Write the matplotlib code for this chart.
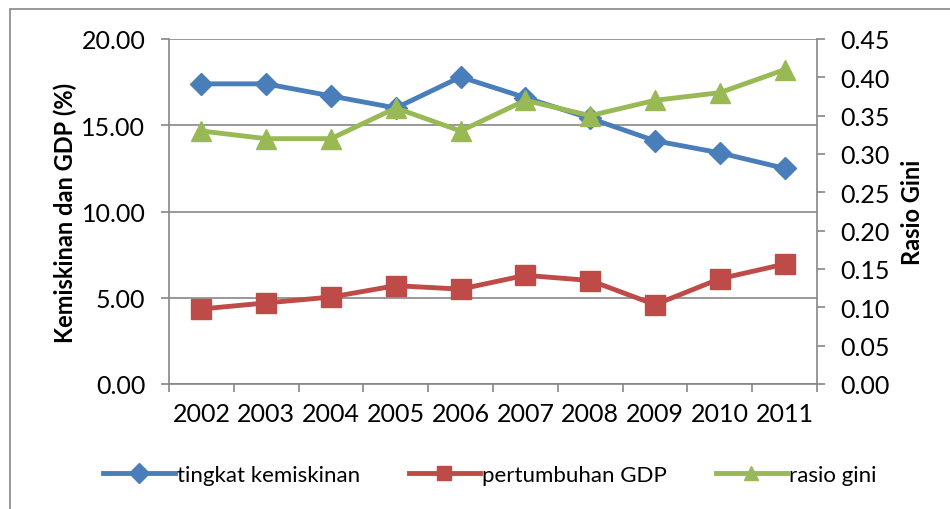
import matplotlib
matplotlib.use("Agg")
import matplotlib.pyplot as plt
from matplotlib.patches import Rectangle
import numpy as np

plt.rcParams['font.family'] = ['Lato', 'DejaVu Sans']

years = ['2002', '2003', '2004', '2005', '2006', '2007', '2008', '2009', '2010', '2011']
kemiskinan = [17.4, 17.4, 16.7, 16.0, 17.8, 16.6, 15.4, 14.1, 13.4, 12.5]
gdp = [4.35, 4.7, 5.04, 5.7, 5.5, 6.3, 6.0, 4.6, 6.1, 6.95]
gini = [0.33, 0.32, 0.32, 0.36, 0.33, 0.37, 0.35, 0.37, 0.38, 0.41]

left_ticks = [0, 5, 10, 15, 20]
right_ticks = [0.0, 0.05, 0.10, 0.15, 0.20, 0.25, 0.30, 0.35, 0.40, 0.45]

W, H = 950, 510
fig = plt.figure(figsize=(W / 100, H / 100), dpi=100)
fig.patch.set_facecolor('white')

# outer chart border
fig.add_artist(Rectangle((10 / W, -0.1), 1.2, (H - 10) / H + 0.1, transform=fig.transFigure,
                         fill=False, edgecolor='#868686', linewidth=1.2))

ax = fig.add_axes([169 / W, 1 - 385 / H, (817 - 169) / W, (385 - 40) / H])
ax2 = ax.twinx()

x = np.arange(len(years))
grey = '#868686'
fs = 18

ax.set_xlim(-0.5, len(years) - 0.5)
ax.set_ylim(0, 20)
ax2.set_ylim(0, 0.45)

ax.set_yticks(left_ticks)
ax.set_yticklabels([f"{v:.2f}" for v in left_ticks])
ax2.set_yticks(right_ticks)
ax2.set_yticklabels([f"{v:.2f}" for v in right_ticks])

ax.set_xticks(x)
ax.set_xticklabels(years)
ax.set_xticks(np.arange(-0.5, len(years) + 0.5, 1), minor=True)
ax.tick_params(axis='x', which='major', length=0, pad=13, labelsize=fs)
ax.tick_params(axis='x', which='minor', length=6, color=grey, width=1.2)
ax.tick_params(axis='y', length=6, color=grey, width=1.2, labelsize=fs, pad=11)
ax2.tick_params(axis='y', length=6, color=grey, width=1.2, labelsize=fs, pad=11)

for a in (ax, ax2):
    for s in a.spines.values():
        s.set_visible(False)
ax.spines['left'].set_visible(True)
ax.spines['left'].set_color(grey)
ax.spines['left'].set_linewidth(1.2)
ax.spines['bottom'].set_visible(True)
ax.spines['bottom'].set_color(grey)
ax.spines['bottom'].set_linewidth(1.2)
ax2.spines['right'].set_visible(True)
ax2.spines['right'].set_color(grey)
ax2.spines['right'].set_linewidth(1.2)

ax.yaxis.grid(True, color=grey, linewidth=1.2)
ax.set_axisbelow(True)

l1, = ax.plot(x, kemiskinan, color='#4A7EBB', marker='D', markersize=11, linewidth=3.5,
              label='tingkat kemiskinan', zorder=3)
l2, = ax.plot(x, gdp, color='#BE4B48', marker='s', markersize=14, linewidth=3.5,
              label='pertumbuhan GDP', zorder=3)
l3, = ax2.plot(x, gini, color='#98B954', marker='^', markersize=15, linewidth=3.5,
               label='rasio gini', zorder=3)

ax.set_ylabel('Kemiskinan dan GDP (%)', fontsize=17, fontweight='bold', labelpad=3)
ax2.set_ylabel('Rasio Gini', fontsize=17, fontweight='bold', labelpad=8)

leg = fig.legend(handles=[l1, l2, l3], loc='center', bbox_to_anchor=(490 / W, 1 - 476 / H),
                 ncol=3, frameon=False, fontsize=16, handlelength=3.2, columnspacing=2.2,
                 handletextpad=0.1)
for h in leg.legend_handles:
    h.set_markersize(10)

fig.savefig('out.png', dpi=100)
